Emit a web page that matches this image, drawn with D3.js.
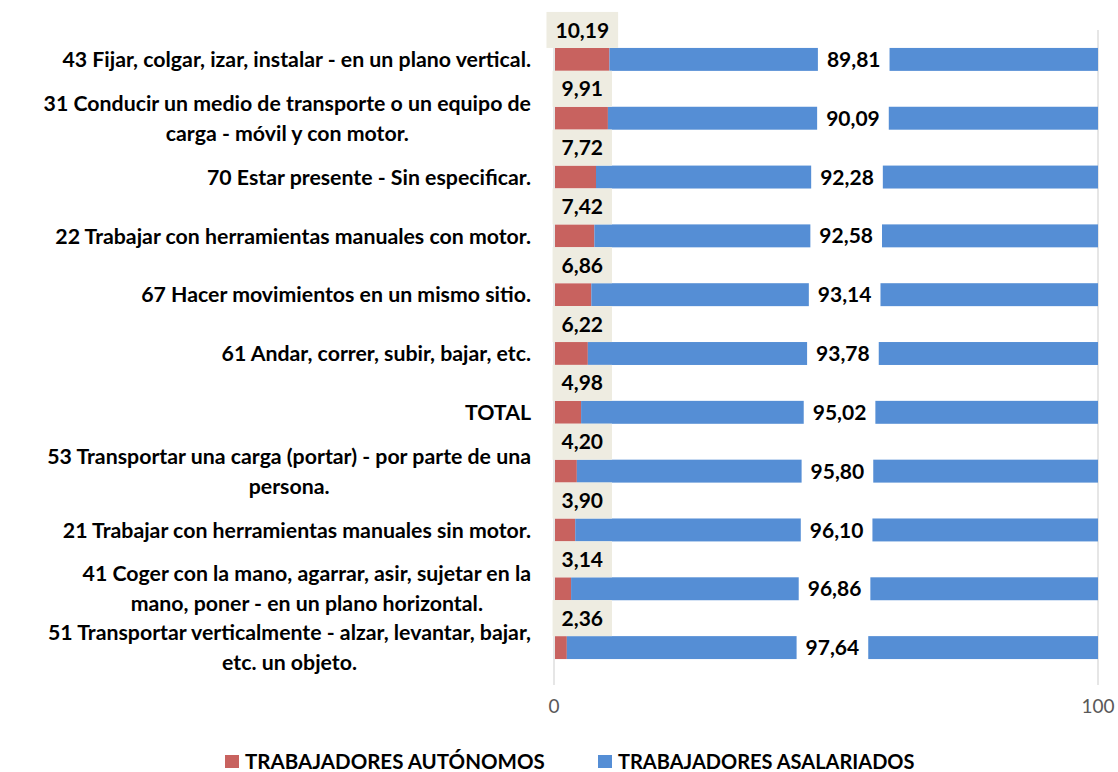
<!DOCTYPE html>
<html><head><meta charset="utf-8">
<script src="https://cdn.jsdelivr.net/npm/d3@7"></script>
<style>body{margin:0;background:#fff}svg{display:block}</style>
</head><body>
<svg id="c" width="1118" height="772"></svg>
<script>
const categories = [
  ["43 Fijar, colgar, izar, instalar - en un plano vertical."],
  ["31 Conducir un medio de transporte o un equipo de","carga - móvil y con motor."],
  ["70 Estar presente - Sin especificar."],
  ["22 Trabajar con herramientas manuales con motor."],
  ["67 Hacer movimientos en un mismo sitio."],
  ["61 Andar, correr, subir, bajar, etc."],
  ["TOTAL"],
  ["53 Transportar una carga (portar) - por parte de una","persona."],
  ["21 Trabajar con herramientas manuales sin motor."],
  ["41 Coger con la mano, agarrar, asir, sujetar en la","mano, poner - en un plano horizontal."],
  ["51 Transportar verticalmente - alzar, levantar, bajar,","etc. un objeto."]
];
const autonomos = [10.19, 9.91, 7.72, 7.42, 6.86, 6.22, 4.98, 4.20, 3.90, 3.14, 2.36];
const asalariados = [89.81, 90.09, 92.28, 92.58, 93.14, 93.78, 95.02, 95.80, 96.10, 96.86, 97.64];
const xTicks = [0, 100];
const seriesNames = ["TRABAJADORES AUTÓNOMOS", "TRABAJADORES ASALARIADOS"];
const colors = ["#c8625f", "#558ed5"];

const svg = d3.select("#c");
const font = "Lato, 'Open Sans', sans-serif";
const fmt = v => v.toFixed(2).replace(".", ",");

const x = d3.scaleLinear().domain([0, 100]).range([554, 1098]);
const y = d3.scaleBand().domain(d3.range(categories.length)).range([30, 677]).paddingInner(0.61).paddingOuter(0.305);
const bh = y.bandwidth();

// gridlines
svg.append("g").selectAll("line").data(xTicks).join("line")
  .attr("x1", d => x(d)).attr("x2", d => x(d))
  .attr("y1", 30).attr("y2", 685)
  .attr("stroke", "#d9d9d9").attr("stroke-width", 1.3);

// axis labels
svg.append("g").selectAll("text").data(xTicks).join("text")
  .attr("x", d => x(d)).attr("y", 713)
  .attr("text-anchor", "middle")
  .attr("font-family", font).attr("font-size", 19).attr("fill", "#595959")
  .text(d => d);

// bars
const rows = svg.append("g").selectAll("g").data(categories).join("g");
rows.append("rect")
  .attr("x", x(0) + 1).attr("y", (d, i) => y(i))
  .attr("width", (d, i) => x(autonomos[i]) - x(0) - 1).attr("height", bh)
  .attr("fill", colors[0]);
rows.append("rect")
  .attr("x", (d, i) => x(autonomos[i])).attr("y", (d, i) => y(i))
  .attr("width", (d, i) => x(autonomos[i] + asalariados[i]) - x(autonomos[i])).attr("height", bh)
  .attr("fill", colors[1]);

// asalariados labels with white box
rows.each(function(d, i) {
  const g = d3.select(this);
  const cx = (x(autonomos[i]) + x(autonomos[i] + asalariados[i])) / 2;
  const cy = y(i) + bh / 2;
  const box = g.append("rect").attr("fill", "#fff");
  const t = g.append("text")
    .attr("x", cx).attr("y", cy).attr("dy", "0.36em")
    .attr("text-anchor", "middle")
    .attr("font-family", font).attr("font-weight", "bold").attr("font-size", 21)
    .attr("fill", "#000").text(fmt(asalariados[i]));
  const w = t.node().getComputedTextLength();
  box.attr("x", cx - w / 2 - 9).attr("y", y(i) - 1).attr("width", w + 18).attr("height", bh + 2);
});

// autonomos labels with beige box
rows.each(function(d, i) {
  const g = d3.select(this);
  const cx = x(5.2);
  const cy = y(i) - (y.step() - bh) / 2;
  const box = g.append("rect").attr("fill", "#eeece1");
  const t = g.append("text")
    .attr("x", cx).attr("y", cy).attr("dy", "0.36em")
    .attr("text-anchor", "middle")
    .attr("font-family", font).attr("font-weight", "bold").attr("font-size", 21)
    .attr("fill", "#000").text(fmt(autonomos[i]));
  const w = t.node().getComputedTextLength();
  box.attr("x", cx - w / 2 - 9).attr("y", y(i) - 36).attr("width", w + 18).attr("height", 36);
});

// category labels
const rightX = 531;
rows.each(function(d, i) {
  const g = d3.select(this);
  const cy = y(i) + bh / 2;
  const lh = 30;
  const ts = d.map((line, k) => g.append("text")
    .attr("y", cy + (k - (d.length - 1) / 2) * lh).attr("dy", "0.36em")
    .attr("text-anchor", "middle")
    .attr("font-family", font).attr("font-weight", "bold").attr("font-size", 21.3)
    .attr("fill", "#000").text(line));
  const ws = ts.map(t => t.node().getComputedTextLength());
  const mw = d3.max(ws);
  ts.forEach(t => t.attr("x", rightX - mw / 2));
});

// legend
const leg = svg.append("g");
const lx = [225, 598];
const lsize = [20.5, 20];
seriesNames.forEach((n, k) => {
  leg.append("rect").attr("x", lx[k]).attr("y", 755).attr("width", 14).attr("height", 13).attr("fill", colors[k]);
  leg.append("text").attr("x", lx[k] + 20).attr("y", 762).attr("dy", "0.36em")
    .attr("font-family", font).attr("font-weight", "bold").attr("font-size", lsize[k])
    .attr("fill", "#000").text(n);
});
</script>
</body></html>
